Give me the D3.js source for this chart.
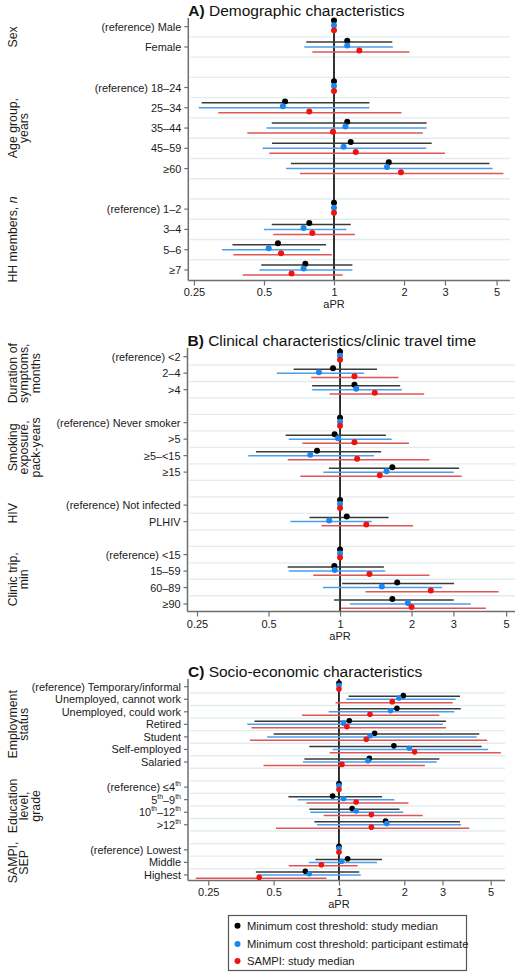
<!DOCTYPE html>
<html><head><meta charset="utf-8">
<script src="https://cdn.jsdelivr.net/npm/d3@7"></script>
<style>
html,body{margin:0;padding:0;background:#fff;}
svg{display:block;font-family:"Liberation Sans",Arial,sans-serif;}
</style></head><body>
<svg id="chart" width="519" height="975"></svg>
<script>
// ---------------- DATA ----------------
const seriesNames = ["Minimum cost threshold: study median","Minimum cost threshold: participant estimate","SAMPI: study median"];
const tickValues = [0.25, 0.5, 1, 2, 3, 5];
const tickLabels = ["0.25", "0.5", "1", "2", "3", "5"];

// Panel A
const titleA = ["A)", " Demographic characteristics"];
const rowsA = ["(reference) Male","Female",null,"(reference) 18–24","25–34","35–44","45–59","≥60",null,"(reference) 1–2","3–4","5–6","≥7"];
const groupsA = [{lines:["Sex"],from:0,to:1},{lines:["Age group,","years"],from:3,to:7},{lines:["HH members, |n|"],from:9,to:12}];
const blackA = [[1],[1.14,0.76,1.78],null,[1],[0.616,0.27,1.42],[1.14,0.54,2.50],[1.18,0.541,2.63],[1.72,0.653,4.66],null,[1],[0.783,0.54,1.18],[0.574,0.366,0.924],[0.753,0.487,1.20]];
const blueA  = [[1],[1.14,0.745,1.79],null,[1],[0.603,0.262,1.42],[1.12,0.513,2.50],[1.10,0.493,2.49],[1.69,0.622,4.81],null,[1],[0.74,0.50,1.13],[0.524,0.33,0.87],[0.74,0.478,1.20]];
const redA   = [[1],[1.285,0.807,2.11],null,[1],[0.783,0.318,1.95],[0.99,0.424,2.41],[1.24,0.527,3.0],[1.94,0.714,5.35],null,[1],[0.807,0.548,1.23],[0.592,0.369,0.98],[0.657,0.405,1.09]];

// Panel B
const titleB = ["B)", " Clinical characteristics/clinic travel time"];
const rowsB = ["(reference) <2","2–4",">4",null,"(reference) Never smoker",">5","≥5–<15","≥15",null,"(reference) Not infected","PLHIV",null,"(reference) <15","15–59","60–89","≥90"];
const groupsB = [{lines:["Duration of","symptoms,","months"],from:0,to:2},{lines:["Smoking","exposure,","pack-years"],from:4,to:7},{lines:["HIV"],from:9,to:10},{lines:["Clinic trip,","min"],from:12,to:15}];
const blackB = [[1],[0.934,0.638,1.43],[1.15,0.763,1.79],null,[1],[0.949,0.59,1.56],[0.80,0.443,1.49],[1.66,0.898,3.17],null,[1],[1.067,0.744,1.60],null,[1],[0.946,0.602,1.53],[1.74,1.02,3.02],[1.66,0.943,3.01]];
const blueB  = [[1],[0.815,0.542,1.26],[1.17,0.763,1.82],null,[1],[0.98,0.608,1.65],[0.749,0.411,1.39],[1.57,0.85,3.01],null,[1],[0.90,0.618,1.36],null,[1],[0.949,0.608,1.55],[1.50,0.847,2.69],[1.93,1.10,3.55]];
const redB   = [[1],[1.15,0.756,1.76],[1.40,0.904,2.26],null,[1],[1.15,0.694,1.95],[1.18,0.602,2.38],[1.47,0.681,3.25],null,[1],[1.29,0.836,2.03],null,[1],[1.33,0.771,2.38],[2.41,1.28,4.65],[2.0,1.01,4.11]];

// Panel C
const titleC = ["C)", " Socio-economic characteristics"];
const rowsC = ["(reference) Temporary/informal","Unemployed, cannot work","Unemployed, could work","Retired","Student","Self-employed","Salaried",null,"(reference) ≤4^th","5^th–9^th","10^th–12^th",">12^th",null,"(reference) Lowest","Middle","Highest"];
const groupsC = [{lines:["Employment","status"],from:0,to:6},{lines:["Education","level,","grade"],from:8,to:11},{lines:["SAMPI,","SEP"],from:13,to:15}];
const blackC = [[1],[1.98,1.108,3.61],[1.85,0.986,3.64],[1.116,0.408,3.11],[1.46,0.50,4.43],[1.79,0.73,4.54],[1.38,0.693,2.90],null,[1],[0.935,0.585,1.58],[1.15,0.73,1.90],[1.64,0.77,3.61],null,[1],[1.096,0.779,1.58],[0.70,0.414,1.24]];
const blueC  = [[1],[1.89,1.08,3.45],[1.73,0.897,3.40],[1.05,0.378,3.01],[1.39,0.467,4.31],[2.11,0.935,4.87],[1.36,0.683,2.82],null,[1],[1.05,0.646,1.80],[1.20,0.738,1.98],[1.66,0.792,3.65],null,[1],[1.03,0.726,1.495],[0.73,0.423,1.26]];
const redC   = [[1],[1.76,0.965,3.34],[1.39,0.676,2.90],[1.088,0.395,3.11],[1.336,0.389,4.82],[2.23,0.906,5.57],[1.032,0.449,2.49],null,[1],[1.20,0.708,2.09],[1.41,0.85,2.43],[1.41,0.513,3.99],null,[1],[0.83,0.587,1.22],[0.429,0.219,0.875]];

// ---------------- STYLE / LAYOUT ----------------
const dotColors = ["#000000", "#1a87ef", "#f0120f"];
const lineColors = ["#3a3a3a", "#4a9fec", "#e05555"];
const axisColor = "#6e6e6e";
const gridColor = "#e2ecee";

const panels = [
  {title:titleA, rows:rowsA, groups:groupsA, series:[blackA,blueA,redA],
   titleY:10, top:18, first:26.7, step:20.27, axisY:280.5, domain:[0.2364,5.71], range:[188.3,510],
   tickY:292, labY:303.5, lineOff:[-5,0,5], dotOff:[-6.3,-1.5,3.6], r:3},
  {title:titleB, rows:rowsB, groups:groupsB, series:[blackB,blueB,redB],
   titleY:340, top:348, first:356.7, step:16.49, axisY:611.5, domain:[0.228,5.45], range:[187.5,515],
   tickY:623.5, labY:635.5, lineOff:[-4,0,4.2], dotOff:[-5,-1,3], r:3},
  {title:titleC, rows:rowsC, groups:groupsC, series:[blackC,blueC,redC],
   titleY:671, top:679, first:686.7, step:12.55, axisY:880.5, domain:[0.2016,5.82], range:[188,505],
   tickY:892, labY:904, lineOff:[-3,0,3.4], dotOff:[-3.6,-1.2,2.4], r:2.8}
];

const svg = d3.select("#chart");

function addLabel(sel, txt) {
  // supports ^th superscripts and |italic|
  const parts = txt.split(/(\^th|\|[^|]*\|)/).filter(s => s.length);
  parts.forEach(p => {
    if (p === "^th") {
      sel.append("tspan").attr("baseline-shift","super").attr("font-size","7px").text("th");
    } else if (p.startsWith("|")) {
      sel.append("tspan").attr("font-style","italic").text(p.slice(1,-1));
    } else {
      sel.append("tspan").text(p);
    }
  });
}

panels.forEach(P => {
  const g = svg.append("g");
  const x = d3.scaleLog().domain(P.domain).range(P.range);
  const y = i => P.first + i * P.step;
  const n = P.rows.length;
  const x0 = P.range[0], x1 = P.range[1];

  // title
  const t = g.append("text").attr("x", x0).attr("y", P.titleY).attr("dominant-baseline","central")
    .attr("font-size","15.5px").attr("fill","#111");
  t.append("tspan").attr("font-weight","bold").text(P.title[0]);
  t.append("tspan").text(P.title[1]);

  // gridlines between rows
  g.selectAll("line.grid").data(d3.range(n - 1)).join("line")
    .attr("x1", x0 + 2).attr("x2", x1)
    .attr("y1", i => y(i + 0.5)).attr("y2", i => y(i + 0.5))
    .attr("stroke", gridColor).attr("stroke-width", 1.4);

  // reference line at 1
  g.append("line").attr("x1", x(1)).attr("x2", x(1)).attr("y1", P.top).attr("y2", P.axisY)
    .attr("stroke", "#000").attr("stroke-width", 1.6);

  // y axis
  g.append("line").attr("x1", x0).attr("x2", x0).attr("y1", P.top).attr("y2", P.axisY)
    .attr("stroke", axisColor).attr("stroke-width", 1.5);
  const rowIdx = d3.range(n).filter(i => P.rows[i] !== null);
  g.selectAll("line.ytick").data(rowIdx).join("line")
    .attr("x1", x0 - 4).attr("x2", x0).attr("y1", i => y(i)).attr("y2", i => y(i))
    .attr("stroke", axisColor).attr("stroke-width", 1.2);
  rowIdx.forEach(i => {
    const tx = g.append("text").attr("x", x0 - 7).attr("y", y(i)).attr("text-anchor","end")
      .attr("dominant-baseline","central").attr("font-size","10.9px").attr("fill","#1a1a1a");
    addLabel(tx, P.rows[i]);
  });

  // x axis
  const xAxis = d3.axisBottom(x).tickValues(tickValues).tickFormat((d, i) => tickLabels[i]).tickSize(5).tickPadding(3);
  const ax = g.append("g").attr("transform", `translate(0,${P.axisY})`).call(xAxis);
  ax.select(".domain").attr("stroke", axisColor).attr("stroke-width", 1.5)
    .attr("d", `M${x0},0H${x1}`);
  ax.selectAll(".tick line").attr("stroke", axisColor).attr("stroke-width", 1.2);
  ax.selectAll(".tick text").attr("font-size","11px").attr("fill","#1a1a1a")
    .attr("font-family","Liberation Sans, Arial, sans-serif").attr("y", null).attr("dy", null)
    .attr("dominant-baseline","central").attr("transform", `translate(0,${P.tickY - P.axisY})`);
  g.append("text").attr("x", x(1)).attr("y", P.labY).attr("text-anchor","middle")
    .attr("dominant-baseline","central").attr("font-size","11px").attr("fill","#1a1a1a").text("aPR");

  // CI lines and dots
  P.series.forEach((S, k) => {
    const d = S.map((v, i) => ({v, i})).filter(o => o.v !== null);
    g.selectAll(null).data(d.filter(o => o.v.length === 3)).join("line")
      .attr("x1", o => x(o.v[1])).attr("x2", o => x(o.v[2]))
      .attr("y1", o => y(o.i) + P.lineOff[k]).attr("y2", o => y(o.i) + P.lineOff[k])
      .attr("stroke", lineColors[k]).attr("stroke-width", 1.5);
  });
  P.series.forEach((S, k) => {
    const d = S.map((v, i) => ({v, i})).filter(o => o.v !== null);
    g.selectAll(null).data(d).join("circle")
      .attr("cx", o => x(o.v[0])).attr("cy", o => y(o.i) + P.dotOff[k])
      .attr("r", P.r).attr("fill", dotColors[k]);
  });

  // group labels (rotated)
  P.groups.forEach(G => {
    const cy = (y(G.from) + y(G.to)) / 2;
    G.lines.forEach((ln, j) => {
      const bx = 16.5 + j * 11.5;
      const tx = g.append("text").attr("transform", `translate(${bx},${cy}) rotate(-90)`)
        .attr("text-anchor","middle").attr("font-size","12.3px").attr("fill","#1a1a1a");
      addLabel(tx, ln);
    });
  });
});

// legend
const leg = svg.append("g");
leg.append("rect").attr("x", 228.5).attr("y", 915.5).attr("width", 238).attr("height", 55)
  .attr("fill", "#fff").attr("stroke", "#555").attr("stroke-width", 1.2);
const legY = [925.7, 944, 961];
seriesNames.forEach((s, k) => {
  leg.append("circle").attr("cx", 237.5).attr("cy", legY[k]).attr("r", 3).attr("fill", dotColors[k]);
  leg.append("text").attr("x", 247).attr("y", legY[k]).attr("dominant-baseline","central")
    .attr("font-size","11.2px").attr("fill","#1a1a1a").text(s);
});
</script>
</body></html>
